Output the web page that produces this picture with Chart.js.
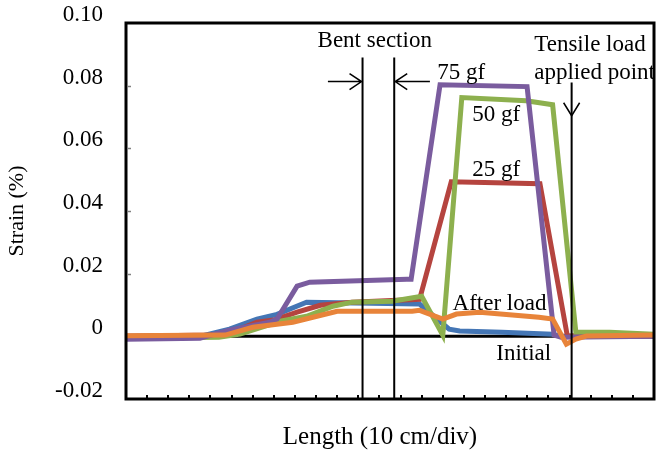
<!DOCTYPE html>
<html>
<head>
    <title>Strain along the fiber</title>
    <script src="https://cdn.jsdelivr.net/npm/chart.js"></script>
    <style>
        body {
            margin: 0;
            background: #ffffff;
        }
        canvas {
            display: block;
        }
    </style>
</head>
<body>
    <canvas id="strainChart" width="657" height="453"></canvas>

    <script>
        // tick labels on the strain axis (bottom to top)
        const yTickLabels = ['-0.02', '0', '0.02', '0.04', '0.06', '0.08', '0.10'];

        // length positions (in divisions) and strain values (%) for each curve
        const initialX = [0, 25];
        const initialY = [0, 0];

        const blueX = [0, 3.5, 4.9, 6.2, 7.15, 8.55, 13.9, 15.3, 15.8, 17.8, 20.2, 20.6, 25];
        const blueY = [0, 0, 0.0023, 0.0055, 0.007, 0.0109, 0.0103, 0.0023, 0.0017, 0.0013, 0.0007, 0, 0];

        const redX = [0, 4.0, 5.0, 6.2, 7.0, 8.1, 9.2, 10.7, 13.9, 15.4, 17.5, 19.6, 20.9, 21.6, 25];
        const redY = [0, 0.0004, 0.0013, 0.0045, 0.0052, 0.0077, 0.0099, 0.0109, 0.0118, 0.0493, 0.049, 0.0487, 0, 0.0004, 0];

        const greenX = [0, 4.4, 5.4, 7.3, 8.55, 9.8, 10.7, 12.6, 14.0, 15.0, 15.9, 18.95, 20.2, 21.3, 22.9, 25];
        const greenY = [-0.0006, -0.0003, 0.0007, 0.0048, 0.0064, 0.0096, 0.0109, 0.0112, 0.0128, 0.0004, 0.0762, 0.0752, 0.0739, 0.0013, 0.0013, 0.0007];

        const purpleX = [0, 3.5, 4.9, 6.8, 7.15, 8.1, 8.7, 13.3, 13.5, 14.87, 18.99, 20.27, 20.6, 25];
        const purpleY = [-0.0009, -0.0006, 0.002, 0.0045, 0.0055, 0.016, 0.0173, 0.0182, 0.0182, 0.0803, 0.0797, 0.0004, -0.0003, 0];

        const orangeX = [0, 4.7, 6.0, 7.9, 8.85, 10.0, 13.55, 13.9, 15.0, 15.65, 16.75, 19.55, 20.2, 20.85, 21.3, 21.8, 25];
        const orangeY = [0.0002, 0.0004, 0.0029, 0.0045, 0.0061, 0.008, 0.008, 0.0083, 0.0055, 0.0071, 0.0077, 0.0061, 0.0055, -0.0025, -0.0009, 0.0001, 0.0004];

        // annotation anchors in data units
        const bentLines = [11.2, 12.7];
        const loadLine = 21.1;
        const notes = [
            ['Bent section', 9.07, 0.0943],
            ['Tensile load', 19.33, 0.0930],
            ['applied point', 19.33, 0.0841],
            ['75 gf', 14.74, 0.0841],
            ['50 gf', 16.4, 0.0707],
            ['25 gf', 16.4, 0.0532],
            ['After load', 15.46, 0.0103],
            ['Initial', 17.53, -0.0056]
        ];
        const xTitle = 'Length (10 cm/div)';

        function toPoints(xs, ys) {
            return xs.map((x, i) => ({ x: x, y: ys[i] }));
        }

        function curve(label, xs, ys, color, order, width) {
            return {
                label: label,
                data: toPoints(xs, ys),
                showLine: true,
                borderColor: color,
                backgroundColor: color,
                borderWidth: width,
                pointRadius: 0,
                tension: 0,
                order: order
            };
        }

        // frame, small tick marks, guide lines and labels
        const annotate = {
            id: 'annotate',
            afterDatasetsDraw(chart) {
                const { ctx, chartArea: a, scales: { x, y } } = chart;
                ctx.save();

                // plot frame
                ctx.strokeStyle = '#000';
                ctx.lineWidth = 3;
                ctx.strokeRect(a.left, a.top, a.right - a.left, a.bottom - a.top);

                // small tick marks along the length axis
                ctx.lineWidth = 2;
                for (let i = 1; i < 25; i++) {
                    const px = Math.round(x.getPixelForValue(i));
                    ctx.beginPath();
                    ctx.moveTo(px, a.bottom);
                    ctx.lineTo(px, a.bottom - 4);
                    ctx.stroke();
                }

                // small tick marks on the strain axis
                ctx.strokeStyle = '#808080';
                ctx.lineWidth = 1.5;
                [0.02, 0.04, 0.06, 0.08].forEach(v => {
                    const py = Math.round(y.getPixelForValue(v)) + 0.5;
                    ctx.beginPath();
                    ctx.moveTo(a.left + 1, py);
                    ctx.lineTo(a.left + 5, py);
                    ctx.stroke();
                });

                // bent section lines and arrows
                ctx.strokeStyle = '#000';
                ctx.lineWidth = 2;
                const ay = y.getPixelForValue(0.0813);
                bentLines.forEach(v => {
                    const px = x.getPixelForValue(v);
                    ctx.beginPath();
                    ctx.moveTo(px, y.getPixelForValue(0.089));
                    ctx.lineTo(px, a.bottom);
                    ctx.stroke();
                });
                ctx.lineWidth = 1.5;
                const l1 = x.getPixelForValue(bentLines[0]);
                const l2 = x.getPixelForValue(bentLines[1]);
                const s1 = x.getPixelForValue(9.56);
                const s2 = x.getPixelForValue(14.39);
                ctx.beginPath();
                ctx.moveTo(s1, ay); ctx.lineTo(l1 - 1, ay);
                ctx.moveTo(l1 - 13, ay - 8); ctx.lineTo(l1 - 1, ay); ctx.lineTo(l1 - 13, ay + 8);
                ctx.moveTo(s2, ay); ctx.lineTo(l2 + 1, ay);
                ctx.moveTo(l2 + 13, ay - 8); ctx.lineTo(l2 + 1, ay); ctx.lineTo(l2 + 13, ay + 8);
                ctx.stroke();

                // tensile load line with arrow head
                const lx = x.getPixelForValue(loadLine);
                const tip = y.getPixelForValue(0.0704);
                ctx.lineWidth = 2;
                ctx.beginPath();
                ctx.moveTo(lx, y.getPixelForValue(0.081));
                ctx.lineTo(lx, a.bottom);
                ctx.stroke();
                ctx.lineWidth = 1.5;
                ctx.beginPath();
                ctx.moveTo(lx - 8, tip - 13); ctx.lineTo(lx, tip); ctx.lineTo(lx + 8, tip - 13);
                ctx.stroke();

                // labels
                ctx.fillStyle = '#000';
                ctx.font = '23px "Liberation Serif"';
                ctx.textAlign = 'left';
                ctx.textBaseline = 'middle';
                notes.forEach(n => {
                    ctx.fillText(n[0], x.getPixelForValue(n[1]), y.getPixelForValue(n[2]));
                });

                // length axis title
                ctx.font = '25px "Liberation Serif"';
                ctx.textAlign = 'center';
                ctx.fillText(xTitle, (a.left + a.right) / 2 - 10, a.bottom + 38);

                ctx.restore();
            }
        };

        const config = {
            type: 'scatter',
            data: {
                datasets: [
                    curve('Initial', initialX, initialY, '#000000', 6, 3),
                    curve('0 gf', blueX, blueY, '#4476B5', 5, 5),
                    curve('25 gf', redX, redY, '#B5443F', 4, 5),
                    curve('50 gf', greenX, greenY, '#8DB04E', 3, 5),
                    curve('75 gf', purpleX, purpleY, '#7A5C9E', 2, 5),
                    curve('After load', orangeX, orangeY, '#E8843A', 1, 5)
                ]
            },
            options: {
                responsive: false,
                animation: false,
                layout: {
                    padding: { top: 23, right: 3, left: 0, bottom: 0 }
                },
                plugins: {
                    legend: { display: false },
                    tooltip: { enabled: false }
                },
                scales: {
                    x: {
                        type: 'linear',
                        min: 0,
                        max: 25,
                        grid: { display: false, drawTicks: false },
                        border: { display: false },
                        ticks: { display: false },
                        afterFit: scale => {
                            scale.height = 54;
                            scale.paddingLeft = 0;
                            scale.paddingRight = 0;
                        }
                    },
                    y: {
                        min: -0.02,
                        max: 0.10,
                        grid: { display: false, drawTicks: false },
                        border: { display: false },
                        ticks: {
                            stepSize: 0.02,
                            padding: 23,
                            labelOffset: -8,
                            color: '#000',
                            font: { family: 'Liberation Serif', size: 23 },
                            callback: (value, index) => yTickLabels[index]
                        },
                        title: {
                            display: true,
                            text: 'Strain (%)',
                            color: '#000',
                            font: { family: 'Liberation Serif', size: 22 },
                            padding: { top: 4, bottom: 0 }
                        },
                        afterFit: scale => {
                            scale.width = 126;
                            scale.paddingTop = 0;
                            scale.paddingBottom = 0;
                        }
                    }
                }
            },
            plugins: [annotate]
        };

        new Chart(document.getElementById('strainChart'), config);
    </script>
</body>
</html>
